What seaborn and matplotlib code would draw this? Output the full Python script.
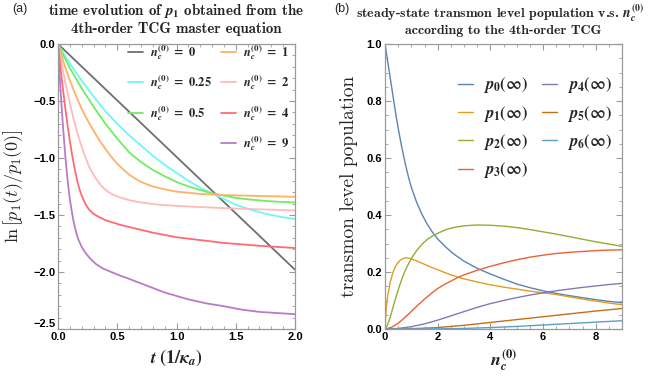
import numpy as np
import pandas as pd
import matplotlib
matplotlib.use("Agg")
import matplotlib.pyplot as plt
from matplotlib.ticker import MultipleLocator
from matplotlib.lines import Line2D
from matplotlib.font_manager import FontProperties
import seaborn as sns

# ---------------- data: panel (a) ----------------
nc_labels = ["0", "0.25", "0.5", "1", "2", "4", "9"]

t_n0 = [0.0, 2.0]
v_n0 = [0.0, -1.98]

t_grid_a = [0, 0.05, 0.1, 0.15, 0.2, 0.3, 0.4, 0.5, 0.6, 0.7, 0.8, 0.9, 1.0,
            1.1, 1.2, 1.3, 1.4, 1.5, 1.6, 1.7, 1.8, 1.9, 2.0]
v_n025 = [0, -0.09, -0.17, -0.25, -0.32, -0.46, -0.59, -0.70, -0.80, -0.89, -0.98, -1.06,
          -1.13, -1.20, -1.26, -1.31, -1.36, -1.41, -1.445, -1.475, -1.50, -1.52, -1.535]
v_n05 = [0, -0.11, -0.21, -0.30, -0.39, -0.55, -0.70, -0.83, -0.95, -1.035, -1.105, -1.16,
         -1.21, -1.25, -1.28, -1.31, -1.33, -1.35, -1.362, -1.372, -1.38, -1.386, -1.39]

t_n1 = [0, 0.05, 0.1, 0.15, 0.2, 0.25, 0.3, 0.35, 0.4, 0.45, 0.5, 0.55, 0.6, 0.65, 0.7,
        0.8, 0.9, 1.0, 1.1, 1.2, 1.4, 1.7, 2.0]
v_n1 = [0, -0.17, -0.32, -0.45, -0.57, -0.67, -0.76, -0.845, -0.92, -0.99, -1.05, -1.10,
        -1.145, -1.18, -1.21, -1.25, -1.275, -1.295, -1.305, -1.315, -1.325, -1.333, -1.34]

t_n2 = [0, 0.03, 0.06, 0.1, 0.13, 0.16, 0.2, 0.23, 0.26, 0.3, 0.34, 0.38, 0.42, 0.46,
        0.52, 0.6, 0.7, 0.85, 1.0, 1.2, 1.4, 1.7, 2.0]
v_n2 = [0, -0.17, -0.33, -0.52, -0.65, -0.77, -0.90, -0.99, -1.07, -1.15, -1.21, -1.26,
        -1.295, -1.32, -1.345, -1.37, -1.39, -1.41, -1.42, -1.43, -1.44, -1.45, -1.46]

t_n4 = [0, 0.02, 0.04, 0.06, 0.08, 0.1, 0.12, 0.14, 0.16, 0.18, 0.2, 0.23, 0.26, 0.3,
        0.35, 0.4, 0.46, 0.52, 0.6, 0.7, 0.8, 0.9, 1.0, 1.2, 1.4, 1.7, 2.0]
v_n4 = [0, -0.2, -0.38, -0.55, -0.71, -0.85, -0.98, -1.09, -1.19, -1.27, -1.33, -1.40,
        -1.45, -1.49, -1.52, -1.545, -1.565, -1.585, -1.605, -1.63, -1.655, -1.675, -1.695,
        -1.72, -1.745, -1.77, -1.79]

t_n9 = [0, 0.01, 0.02, 0.03, 0.04, 0.05, 0.06, 0.07, 0.08, 0.09, 0.1, 0.115, 0.13, 0.15,
        0.17, 0.2, 0.23, 0.27, 0.32, 0.38, 0.45, 0.52, 0.6, 0.7, 0.8, 0.9, 1.0, 1.1, 1.25,
        1.4, 1.55, 1.7, 1.85, 2.0]
v_n9 = [0, -0.2, -0.38, -0.54, -0.69, -0.83, -0.96, -1.08, -1.18, -1.28, -1.36, -1.46,
        -1.55, -1.64, -1.71, -1.78, -1.83, -1.88, -1.93, -1.97, -2.00, -2.03, -2.06, -2.10,
        -2.14, -2.18, -2.21, -2.24, -2.275, -2.30, -2.33, -2.35, -2.36, -2.37]

# ---------------- data: panel (b) ----------------
p_labels = ["0", "1", "2", "3", "4", "5", "6"]

n_p0 = [0, 0.1, 0.2, 0.3, 0.4, 0.5, 0.6, 0.7, 0.8, 0.9, 1.0, 1.2, 1.4, 1.6, 1.8, 2.0,
        2.3, 2.6, 3.0, 3.5, 4.0, 4.5, 5, 5.5, 6, 6.5, 7, 7.5, 8, 8.5, 9]
v_p0 = [1.0, 0.94, 0.88, 0.82, 0.76, 0.705, 0.655, 0.61, 0.568, 0.53, 0.497, 0.445, 0.403,
        0.368, 0.34, 0.316, 0.288, 0.264, 0.238, 0.213, 0.193, 0.175, 0.158, 0.145, 0.134,
        0.125, 0.117, 0.11, 0.103, 0.097, 0.092]

n_p1 = [0, 0.03, 0.06, 0.1, 0.15, 0.2, 0.3, 0.4, 0.5, 0.6, 0.7, 0.8, 0.9, 1.0, 1.2, 1.4,
        1.6, 1.8, 2.0, 2.3, 2.6, 3.0, 3.5, 4, 4.5, 5, 5.5, 6, 6.5, 7, 7.5, 8, 8.5, 9]
v_p1 = [0, 0.05, 0.085, 0.115, 0.14, 0.165, 0.198, 0.22, 0.234, 0.243, 0.248, 0.25, 0.249,
        0.246, 0.239, 0.231, 0.223, 0.215, 0.208, 0.197, 0.187, 0.176, 0.165, 0.155, 0.147,
        0.14, 0.133, 0.127, 0.121, 0.113, 0.105, 0.098, 0.091, 0.085]

n_p2 = [0, 0.1, 0.2, 0.3, 0.4, 0.5, 0.6, 0.7, 0.8, 0.9, 1.0, 1.2, 1.4, 1.6, 1.8, 2.0,
        2.3, 2.6, 3.0, 3.5, 4, 4.5, 5, 5.5, 6, 6.5, 7, 7.5, 8, 8.5, 9]
v_p2 = [0, 0.015, 0.042, 0.075, 0.107, 0.137, 0.165, 0.19, 0.212, 0.23, 0.247, 0.275, 0.297,
        0.314, 0.326, 0.336, 0.348, 0.356, 0.362, 0.365, 0.364, 0.361, 0.356, 0.349, 0.341,
        0.333, 0.324, 0.315, 0.306, 0.298, 0.29]

n_p3 = [0, 0.25, 0.5, 0.75, 1, 1.25, 1.5, 1.75, 2, 2.25, 2.5, 2.75, 3, 3.5, 4, 4.5, 5,
        5.5, 6, 6.5, 7, 7.5, 8, 8.5, 9]
v_p3 = [0, 0.006, 0.02, 0.04, 0.062, 0.084, 0.105, 0.124, 0.142, 0.156, 0.168, 0.18, 0.19,
        0.206, 0.22, 0.232, 0.243, 0.252, 0.259, 0.265, 0.269, 0.272, 0.275, 0.277, 0.278]

n_p4 = [0, 0.5, 1, 1.5, 2, 2.5, 3, 3.5, 4, 4.5, 5, 5.5, 6, 6.5, 7, 7.5, 8, 8.5, 9]
v_p4 = [0, 0.002, 0.008, 0.018, 0.031, 0.046, 0.061, 0.076, 0.089, 0.1, 0.11, 0.119, 0.127,
        0.134, 0.14, 0.146, 0.151, 0.156, 0.16]

n_p5 = [0, 1, 2, 3, 4, 5, 6, 7, 8, 9]
v_p5 = [0, 0.001, 0.005, 0.013, 0.023, 0.033, 0.043, 0.053, 0.063, 0.072]

n_p6 = [0, 2, 3, 4, 5, 6, 7, 8, 9]
v_p6 = [0, 0.0005, 0.002, 0.005, 0.009, 0.014, 0.019, 0.024, 0.029]

# ---------------- style ----------------
sns.set_theme(style="white")
plt.rcParams.update({
    "font.family": ["Liberation Sans", "DejaVu Sans"],
    "mathtext.fontset": "cm",
    # bold-italic math used only by texts with math_fontfamily="custom"
    "mathtext.it": "STIXGeneral:italic:bold",
    "mathtext.rm": "STIXGeneral:bold",
    "mathtext.bf": "STIXGeneral:bold",
    "mathtext.bfit": "STIXGeneral:italic:bold",
    "mathtext.sf": "STIXGeneral:bold",
    "mathtext.cal": "STIXGeneral:bold",
    "axes.edgecolor": "#9a9a9a",
    "axes.linewidth": 0.9,
    "xtick.color": "#9a9a9a",
    "ytick.color": "#9a9a9a",
    "xtick.labelcolor": "black",
    "ytick.labelcolor": "black",
    "xtick.direction": "in",
    "ytick.direction": "in",
    "xtick.top": True,
    "ytick.right": True,
    "xtick.bottom": True,
    "ytick.left": True,
    "xtick.major.size": 4,
    "ytick.major.size": 4,
    "xtick.minor.size": 2,
    "ytick.minor.size": 2,
    "xtick.major.width": 0.8,
    "ytick.major.width": 0.8,
    "xtick.minor.width": 0.6,
    "ytick.minor.width": 0.6,
})

fig = plt.figure(figsize=(6.48, 3.77), dpi=100)
W, H = 648, 377
axA = fig.add_axes([58 / W, (H - 329) / H, 237 / W, 285 / H])
axB = fig.add_axes([385 / W, (H - 329) / H, 237 / W, 285 / H])

colsA = ["#6f6f6f", "#6ff6f6", "#72ec62", "#ffb266", "#ffbaba", "#ff6b72", "#b97bc9"]
curvesA = [(t_n0, v_n0), (t_grid_a, v_n025), (t_grid_a, v_n05), (t_n1, v_n1),
           (t_n2, v_n2), (t_n4, v_n4), (t_n9, v_n9)]
handlesA = []
for (tt, vv), c, lab in zip(curvesA, colsA, nc_labels):
    sns.lineplot(x=tt, y=vv, color=c, lw=1.3, ax=axA, sort=False, estimator=None)
    handlesA.append(Line2D([], [], color=c, lw=1.3, label=r"$n_c^{(0)}\ =\ %s$" % lab))

colsB = ["#5e81b5", "#e19c24", "#8fb032", "#eb6235", "#8778b3", "#c56e1a", "#5d9ec7"]
curvesB = [(n_p0, v_p0), (n_p1, v_p1), (n_p2, v_p2), (n_p3, v_p3),
           (n_p4, v_p4), (n_p5, v_p5), (n_p6, v_p6)]
handlesB = []
for (xx, vv), c, lab in zip(curvesB, colsB, p_labels):
    sns.lineplot(x=xx, y=vv, color=c, lw=1.0, ax=axB, sort=False, estimator=None)
    handlesB.append(Line2D([], [], color=c, lw=1.0, label=r"$p_{%s}(\infty)$" % lab))

# axes
axA.set_xlim(0, 2.0)
axA.set_ylim(-2.5, 0.0)
axA.xaxis.set_minor_locator(MultipleLocator(0.1))
axA.yaxis.set_minor_locator(MultipleLocator(0.1))
axA.set_xticks([0, 0.5, 1.0, 1.5, 2.0])
axA.set_xticklabels(["0.0", "0.5", "1.0", "1.5", "2.0"], fontweight="bold")
axA.set_yticks([0, -0.5, -1.0, -1.5, -2.0, -2.5])
axA.set_yticklabels(["0.0", "\u22120.5", "\u22121.0", "\u22121.5", "\u22122.0", "\u22122.5"],
                    fontweight="bold")

axB.set_xlim(0, 9)
axB.set_ylim(0, 1.0)
axB.xaxis.set_minor_locator(MultipleLocator(0.5))
axB.yaxis.set_minor_locator(MultipleLocator(0.05))
axB.set_xticks([0, 2, 4, 6, 8])
axB.set_xticklabels(["0", "2", "4", "6", "8"], fontweight="bold")
axB.set_yticks([0, 0.2, 0.4, 0.6, 0.8, 1.0])
axB.set_yticklabels(["0.0", "0.2", "0.4", "0.6", "0.8", "1.0"], fontweight="bold")

for ax in (axA, axB):
    ax.tick_params(which="both", labelsize=8, pad=2)
    ax.grid(False)

axA.get_yticklabels()[-1].set_va("bottom")

mf = "custom"
axA.set_xlabel(r"$t\ (1/\kappa_a)$", fontsize=13, labelpad=4, math_fontfamily=mf)
axA.set_ylabel(r"$\ln\left[p_1(t)/p_1(0)\right]$", fontsize=13, labelpad=6)
axB.set_xlabel(r"$n_c^{(0)}$", fontsize=13, labelpad=4, math_fontfamily=mf)
axB.set_ylabel("transmon level population", fontsize=14, family="cmr10", labelpad=6)

# legends
blank = Line2D([], [], color="none", label=" ")
legA = axA.legend(handles=handlesA[:3] + [blank] + handlesA[3:], ncol=2, loc="upper right",
                  bbox_to_anchor=(1.01, 1.03), frameon=False,
                  prop=FontProperties(size=9, math_fontfamily=mf),
                  handlelength=1.2, handletextpad=0.6, columnspacing=0.7,
                  labelspacing=0.95, borderaxespad=0.2)
legB = axB.legend(handles=handlesB, ncol=2, loc="upper right",
                  bbox_to_anchor=(1.0, 0.925), frameon=False,
                  prop=FontProperties(size=12, math_fontfamily=mf),
                  handlelength=0.9, handletextpad=0.6, columnspacing=0.8,
                  labelspacing=0.5, borderaxespad=0.2)

# titles
fig.text(176 / W, 1 - 11 / H, r"time evolution of $p_1$ obtained from the",
         ha="center", va="center", fontsize=10.8, family="cmb10", math_fontfamily=mf)
fig.text(176 / W, 1 - 29 / H, "4th-order TCG master equation",
         ha="center", va="center", fontsize=10.8, family="cmb10")
fig.text(500 / W, 1 - 13 / H, r"steady-state transmon level population v.s. $n_c^{(0)}$",
         ha="center", va="center", fontsize=10.0, family="cmb10", math_fontfamily=mf)
fig.text(503 / W, 1 - 31 / H, "according to the 4th-order TCG",
         ha="center", va="center", fontsize=10.0, family="cmb10")
fig.text(12 / W, 1 - 9 / H, "(a)", ha="left", va="center", fontsize=9)
fig.text(334 / W, 1 - 9 / H, "(b)", ha="left", va="center", fontsize=9)

fig.savefig("out.png", dpi=100)
